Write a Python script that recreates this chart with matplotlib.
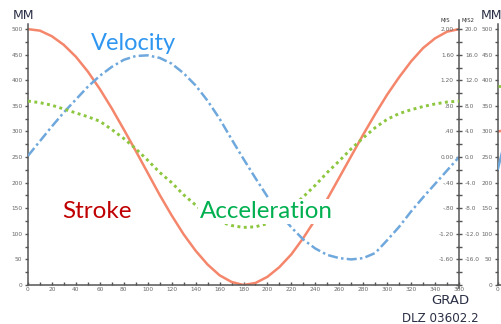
import matplotlib
matplotlib.use("Agg")
import matplotlib.pyplot as plt
from matplotlib.ticker import MultipleLocator, FixedLocator, FixedFormatter

# Werte (Kurbelwinkel in Grad)
angle = [0, 10, 20, 30, 40, 50, 60, 70, 80, 90, 100, 110, 120, 130, 140, 150, 160, 170, 180,
         190, 200, 210, 220, 230, 240, 250, 260, 270, 280, 290, 300, 310, 320, 330, 340, 350, 360]
stroke_mm = [500, 497, 486, 469, 446, 417, 383, 345, 304, 262, 219, 176, 136, 99, 67, 40, 19, 6, 0,
             4, 16, 35, 60, 92, 128, 168, 210, 252, 294, 334, 372, 406, 437, 463, 482, 495, 500]
velocity = [0.02, 0.25, 0.48, 0.70, 0.90, 1.10, 1.27, 1.41, 1.52, 1.58, 1.59, 1.55, 1.46, 1.31, 1.12,
            0.88, 0.60, 0.28, -0.03, -0.33, -0.62, -0.88, -1.10, -1.29, -1.43, -1.53, -1.58, -1.60,
            -1.58, -1.50, -1.30, -1.09, -0.85, -0.63, -0.42, -0.21, 0.0]
acceleration = [8.75, 8.5, 8.1, 7.5, 6.9, 6.3, 5.6, 4.3, 2.9, 1.3, -0.5, -2.4, -4.0, -5.9, -7.5,
                -9.1, -10.1, -10.7, -11.0, -10.9, -10.4, -9.2, -7.9, -6.2, -4.4, -2.4, -0.6, 1.3,
                3.0, 4.6, 5.9, 6.8, 7.4, 7.9, 8.3, 8.6, 8.75]

# Anfang des nächsten Diagramms (rechter Rand des Bildes)
next_angle = [0, 5]
next_stroke_mm = [300, 302]
next_velocity = [-0.18, 0.2]
next_acceleration = [11.1, 11.1]

ms_ticks = [2.0, 1.6, 1.2, 0.8, 0.4, 0.0, -0.4, -0.8, -1.2, -1.6]
ms_labels = ["2.00", "1.60", "1.20", ".80", ".40", "0.00", "-.40", "-.80", "-1.20", "-1.60"]
ms2_labels = ["20.0", "16.0", "12.0", "8.0", "4.0", "0.0", "-4.0", "-8.0", "-12.0", "-16.0"]

RED = "#f4866b"
BLUE = "#6fa8dc"
GREEN = "#8dc63f"
AXC = "#555555"
TXT = "#666666"

W, H = 501, 324


def box(x0, y0, x1, y1):
    # Pixelrechteck -> Figurenkoordinaten
    return [x0 / W, 1 - y1 / H, (x1 - x0) / W, (y1 - y0) / H]


def style_axes(ax):
    for s in ["top", "right"]:
        ax.spines[s].set_visible(False)
    for s in ["left", "bottom"]:
        ax.spines[s].set_color(AXC)
        ax.spines[s].set_linewidth(1.1)
    ax.set_xlim(0, 360)
    ax.set_ylim(0, 510)
    ax.xaxis.set_major_locator(MultipleLocator(20))
    ax.xaxis.set_minor_locator(MultipleLocator(10))
    ax.yaxis.set_major_locator(FixedLocator(range(0, 501, 50)))
    ax.yaxis.set_minor_locator(FixedLocator(range(25, 500, 50)))
    ax.tick_params(axis="x", which="both", direction="in", length=2.5, width=1,
                   color=AXC, labelsize=4.2, labelcolor=TXT, pad=1.5)
    ax.tick_params(axis="y", which="both", direction="out", length=2.5, width=1,
                   color=AXC, labelsize=4.2, labelcolor=TXT, pad=1.5)
    ax.patch.set_alpha(0)


fig = plt.figure(figsize=(W / 100, H / 100), dpi=100)

ax = fig.add_axes(box(28, 24, 459, 285))
style_axes(ax)
ax.plot(angle, stroke_mm, color=RED, lw=1.8, solid_capstyle="butt")

ax_v = ax.twinx()
ax_v.set_ylim(-2, 2.08)
ax_v.plot(angle, velocity, color=BLUE, lw=1.8, linestyle=(0, (4, 1.3, 1, 1.3)))

ax_a = ax.twinx()
ax_a.set_ylim(-20, 20.8)
ax_a.plot(angle, acceleration, color=GREEN, lw=2.1, linestyle=(0, (1, 1.2)))

for a in (ax_v, ax_a):
    for s in ["top", "left", "bottom"]:
        a.spines[s].set_visible(False)
ax_a.spines["right"].set_visible(False)
ax_v.spines["right"].set_color(AXC)
ax_v.spines["right"].set_linewidth(1.1)
ax_v.spines["right"].set_bounds(-2.05, 2.14)

ax_v.yaxis.set_major_locator(FixedLocator(ms_ticks))
ax_v.yaxis.set_major_formatter(FixedFormatter(ms_labels))
ax_v.yaxis.set_minor_locator(FixedLocator([1.8, 1.4, 1.0, 0.6, 0.2, -0.2, -0.6, -1.0, -1.4, -1.8, -2.0]))
ax_v.tick_params(axis="y", which="both", direction="inout", length=5, width=1, color=AXC,
                 labelsize=4.2, labelcolor=TXT, pad=-6.2)
for t in ax_v.get_yticklabels():
    t.set_horizontalalignment("right")

ax_a.yaxis.set_major_locator(FixedLocator([v * 10 for v in ms_ticks]))
ax_a.yaxis.set_major_formatter(FixedFormatter(ms2_labels))
ax_a.yaxis.set_minor_locator(FixedLocator([]))
ax_a.tick_params(axis="y", which="both", length=0, labelsize=4.2, labelcolor=TXT, pad=4.3)

# Beschriftungen
ax_a.text(52.6, 16.8, "Velocity", color="#2f96f0", fontsize=17, family="Lato", va="baseline")
ax_a.text(28.4, -9.5, "Stroke", color="#c00000", fontsize=17.5, family="Lato", va="baseline")
ax_a.text(143.7, -9.5, "Acceleration", color="#00b050", fontsize=17.4, family="Lato", va="baseline",
          bbox=dict(facecolor="white", edgecolor="none", boxstyle="square,pad=0.08"), zorder=5)

fig.text(13 / W, 1 - 19 / H, "MM", fontsize=9, color="#2a2f45", va="baseline")
fig.text(450 / W, 1 - 22 / H, "M/S", fontsize=3.8, color="#333333", ha="right", va="baseline")
fig.text(461 / W, 1 - 22 / H, "M/S2", fontsize=3.8, color="#333333", ha="left", va="baseline")
fig.text(450 / W, 1 - 304 / H, "GRAD", fontsize=9.5, color="#2a2f45", ha="center", va="baseline")
fig.text(440 / W, 1 - 322 / H, "DLZ 03602.2", fontsize=8.6, color="#2a2f45", ha="center", va="baseline")

# Rand des nächsten Diagramms
ax2 = fig.add_axes(box(498, 24, 929, 285))
style_axes(ax2)
ax2.xaxis.set_major_locator(FixedLocator([0]))
ax2.plot(next_angle, next_stroke_mm, color=RED, lw=1.8)
ax2_v = ax2.twinx()
ax2_v.set_ylim(-2, 2.08)
ax2_v.plot(next_angle, next_velocity, color=BLUE, lw=1.8)
ax2_a = ax2.twinx()
ax2_a.set_ylim(-20, 20.8)
ax2_a.plot(next_angle, next_acceleration, color=GREEN, lw=2, linestyle=(0, (1, 1.1)))
for a in (ax2_v, ax2_a):
    a.axis("off")
fig.text(481 / W, 1 - 19 / H, "MM", fontsize=9, color="#2a2f45", va="baseline")

fig.savefig("out.png", dpi=100)
